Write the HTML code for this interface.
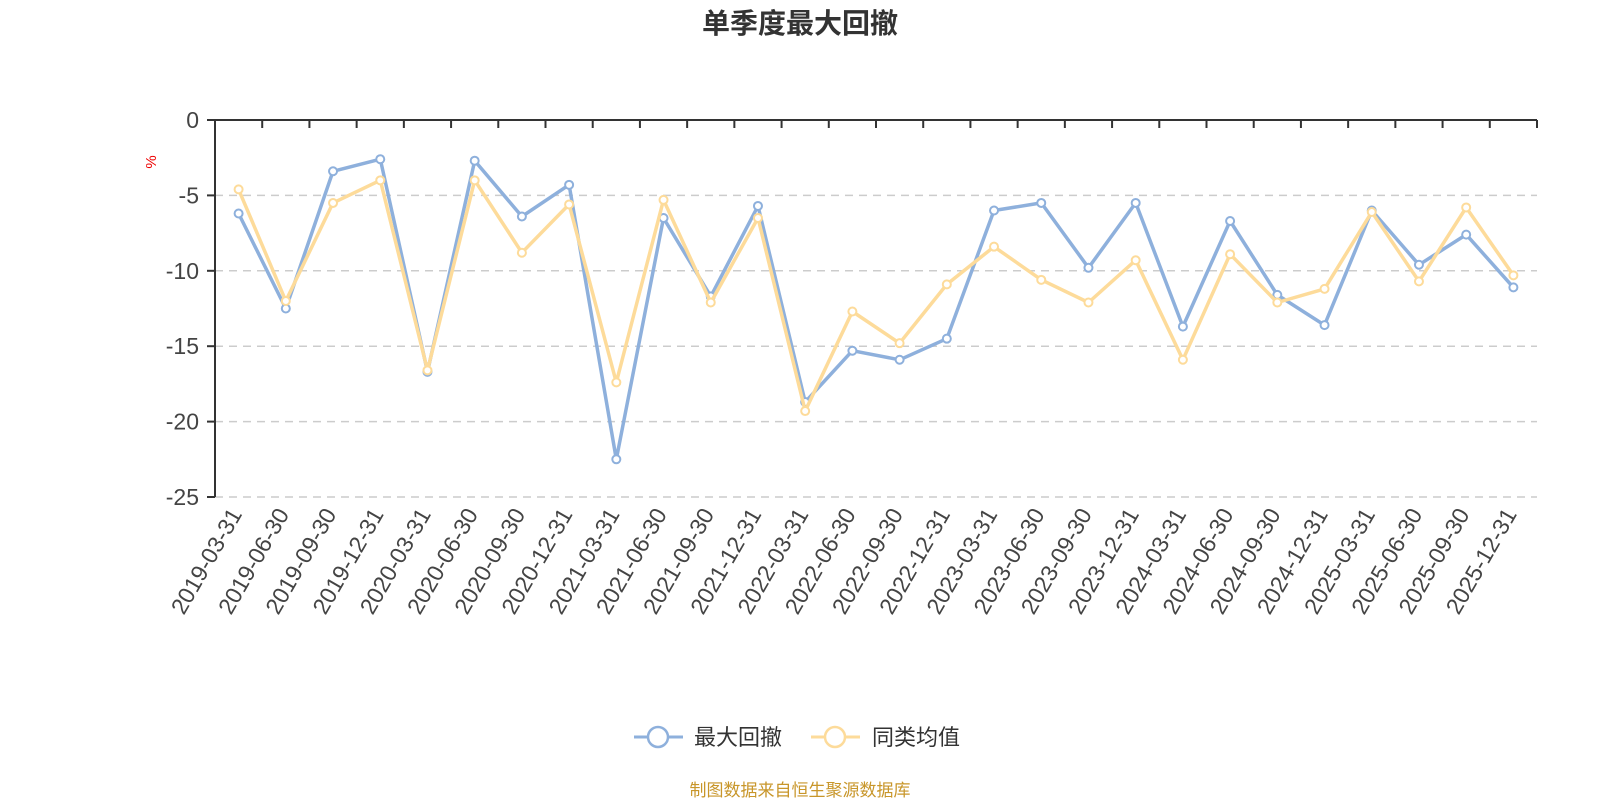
<!DOCTYPE html>
<html><head><meta charset="utf-8"><style>
html,body{margin:0;padding:0;background:#fff;}
svg{display:block;font-family:"Liberation Sans","Noto Sans CJK SC",sans-serif;}
</style></head><body>
<svg width="1600" height="800" viewBox="0 0 1600 800" xmlns="http://www.w3.org/2000/svg">
<text x="800" y="33" text-anchor="middle" font-size="28" font-weight="bold" fill="#333">单季度最大回撤</text>
<text transform="translate(156,162) rotate(-90)" text-anchor="middle" font-size="15" fill="#e00">%</text>
<g id="grid"></g>
<g id="axis"></g>
<g id="series"></g>
<g transform="translate(0,737)">
<line x1="634" y1="0" x2="683" y2="0" stroke="#8eb0dc" stroke-width="3"/>
<circle cx="658" cy="0" r="10" fill="#fff" stroke="#8eb0dc" stroke-width="2.5"/>
<text x="694" y="8" font-size="22" fill="#333">最大回撤</text>
<line x1="811" y1="0" x2="860" y2="0" stroke="#fddb9a" stroke-width="3"/>
<circle cx="835" cy="0" r="10" fill="#fff" stroke="#fddb9a" stroke-width="2.5"/>
<text x="872" y="8" font-size="22" fill="#333">同类均值</text>
</g>
<text x="800" y="796" text-anchor="middle" font-size="17" fill="#c8962a">制图数据来自恒生聚源数据库</text>
<script>
var L=215,R=1537,T=120,S=15.08,W=(R-L)/28;
function y(v){return T-v*S;}
var ns="http://www.w3.org/2000/svg";
function el(p,t,a,txt){var e=document.createElementNS(ns,t);for(var k in a)e.setAttribute(k,a[k]);if(txt!=null)e.textContent=txt;document.getElementById(p).appendChild(e);return e;}
for(var v=0;v>=-25;v-=5){
 if(v<0)el("grid","line",{x1:L,x2:R,y1:y(v),y2:y(v),stroke:"#ccc","stroke-width":1.5,"stroke-dasharray":"8,6"});
 el("axis","line",{x1:L-8,x2:L,y1:y(v),y2:y(v),stroke:"#333","stroke-width":2});
 el("axis","text",{x:L-16,y:y(v)+8,"text-anchor":"end","font-size":23,fill:"#444"},v);
}
el("axis","line",{x1:L,x2:L,y1:T,y2:y(-25),stroke:"#333","stroke-width":2});
el("axis","line",{x1:L,x2:R,y1:T,y2:T,stroke:"#333","stroke-width":2});
for(var i=0;i<=28;i++){var x=L+W*i;el("axis","line",{x1:x,x2:x,y1:T,y2:T+8,stroke:"#333","stroke-width":2});}
var d=["2019-03-31","2019-06-30","2019-09-30","2019-12-31","2020-03-31","2020-06-30","2020-09-30","2020-12-31","2021-03-31","2021-06-30","2021-09-30","2021-12-31","2022-03-31","2022-06-30","2022-09-30","2022-12-31","2023-03-31","2023-06-30","2023-09-30","2023-12-31","2024-03-31","2024-06-30","2024-09-30","2024-12-31","2025-03-31","2025-06-30","2025-09-30","2025-12-31"];
d.forEach(function(s,i){var x=L+W*(i+0.5)+4;el("axis","text",{transform:"translate("+x+",514) rotate(-60)","text-anchor":"end","font-size":23,fill:"#444"},s);});
var b=[-6.2,-12.5,-3.4,-2.6,-16.7,-2.7,-6.4,-4.3,-22.5,-6.5,-11.7,-5.7,-18.7,-15.3,-15.9,-14.5,-6.0,-5.5,-9.8,-5.5,-13.7,-6.7,-11.6,-13.6,-6.0,-9.6,-7.6,-11.1];
var o=[-4.6,-12.0,-5.5,-4.0,-16.6,-4.0,-8.8,-5.6,-17.4,-5.3,-12.1,-6.5,-19.3,-12.7,-14.8,-10.9,-8.4,-10.6,-12.1,-9.3,-15.9,-8.9,-12.1,-11.2,-6.1,-10.7,-5.8,-10.3];
function ser(a,c){var p=a.map(function(v,i){return (L+W*(i+0.5)).toFixed(1)+","+y(v).toFixed(1);}).join(" ");
 el("series","polyline",{points:p,fill:"none",stroke:c,"stroke-width":3.5,"stroke-linejoin":"round"});
 a.forEach(function(v,i){el("series","circle",{cx:L+W*(i+0.5),cy:y(v),r:4,fill:"#fff",stroke:c,"stroke-width":2});});}
ser(b,"#8eb0dc");ser(o,"#fddb9a");
</script>
</svg>
</body></html>
